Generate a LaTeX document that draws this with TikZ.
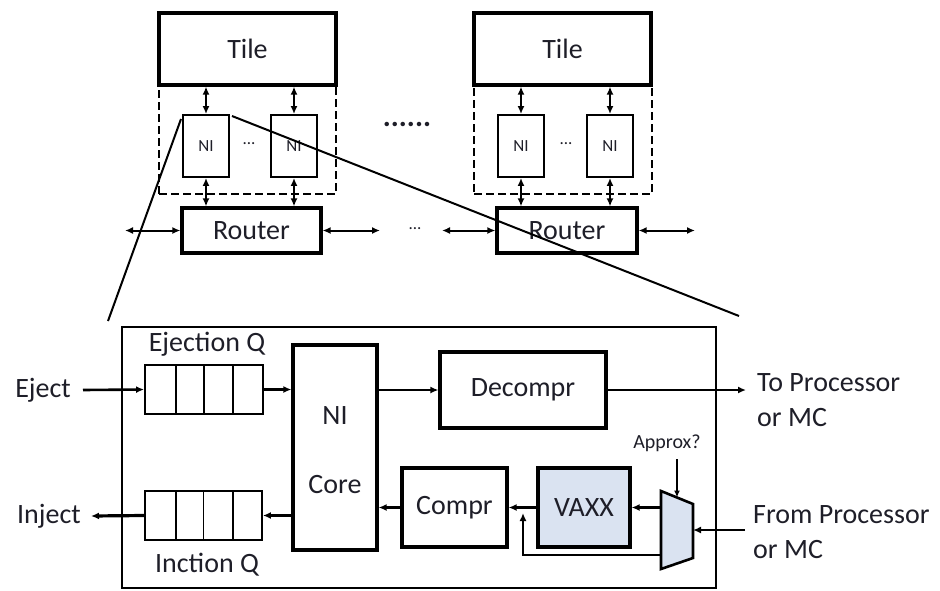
\documentclass[tikz,border=0pt]{standalone}
\usepackage{fontspec}
\setmainfont{Carlito}
\usetikzlibrary{arrows.meta,calc}
\definecolor{vfill}{HTML}{DAE3F1}
\definecolor{txt}{HTML}{1E1E28}
\tikzset{
  bx/.style={draw, line width=3.2pt, inner sep=0pt, minimum width=#1},
  thinbx/.style={draw, line width=1.9pt, inner sep=0pt},
  big/.style={font=\fontsize{28}{35}\selectfont, text=txt},
  small/.style={font=\fontsize{17}{20}\selectfont, text=txt},
  arr/.style={-{Latex[length=8pt,width=7pt]}, line width=2.6pt},
  darr/.style={{Latex[length=8pt,width=7pt]}-{Latex[length=8pt,width=7pt]}, line width=2pt},
  zoomline/.style={line width=2pt},
  dashbox/.style={draw, dashed, dash pattern=on 8pt off 4pt, line width=2.4pt, inner sep=0pt},
}
\begin{document}
\begin{tikzpicture}[x=1pt,y=-1pt]
\useasboundingbox (0,0) rectangle (940,590);

% ---------- top: tiles, NIs, routers ----------
\node[bx=177pt, minimum height=72pt, big] (tile1) at (247.5,49) {Tile};
\node[dashbox, minimum width=177pt, minimum height=109pt] (dash1) at (247.5,139.5) {};
\node[thinbx, minimum width=46pt, minimum height=62pt, small] (ni1) at (206,146) {NI};
\node[thinbx, minimum width=46pt, minimum height=62pt, small] (ni2) at (294,146) {NI};
\node[small] (dots1) at (249,144) {...};
\node[bx=139pt, minimum height=45pt, big] (router1) at (251.5,230.5) {Router};

\node[bx=177pt, minimum height=72pt, big] (tile2) at (562.5,49) {Tile};
\node[dashbox, minimum width=178pt, minimum height=109pt] (dash2) at (563,139.5) {};
\node[thinbx, minimum width=46pt, minimum height=62pt, small] (ni3) at (521,146) {NI};
\node[thinbx, minimum width=46pt, minimum height=62pt, small] (ni4) at (610,146) {NI};
\node[small] (dots2) at (566,144) {...};
\node[bx=140pt, minimum height=45pt, big] (router2) at (567,230.5) {Router};

\node[font=\fontsize{30}{30}\selectfont\bfseries, text=txt] (dots3) at (407,124) {......};
\node[small] (dots4) at (415,229) {...};

\foreach \n/\t/\r in {ni1/tile1/router1, ni2/tile1/router1, ni3/tile2/router2, ni4/tile2/router2}{
  \draw[darr] (\n.north) -- (\n.north |- \t.south);
  \draw[darr] (\n.south) -- (\n.south |- \r.north);
}
\coordinate (lfree) at (125,230.5);
\coordinate (rfree1) at (380,230.5);
\coordinate (lfree2) at (442,230.5);
\coordinate (rfree2) at (695,230.5);
\draw[darr] (lfree) -- (router1.west);
\draw[darr] (router1.east) -- (rfree1);
\draw[darr] (lfree2) -- (router2.west);
\draw[darr] (router2.east) -- (rfree2);

% ---------- bottom: NI detail ----------
\node[draw, line width=2.6pt, minimum width=594pt, minimum height=261pt, inner sep=0pt] (outer) at (419,457.5) {};

\node[thinbx, minimum width=118pt, minimum height=49pt] (ejq) at (204,389.5) {};
\node[thinbx, minimum width=117pt, minimum height=49pt] (injq) at (203.5,515.5) {};
\foreach \q in {ejq, injq}{
  \foreach \f in {0.265,0.5,0.745}{
    \draw[line width=1.9pt] ($(\q.north west)!\f!(\q.north east)$) -- ($(\q.south west)!\f!(\q.south east)$);
  }
}
\node[big] (ejlab) at (207,344) {Ejection Q};
\node[big] (inlab) at (207,565) {Inction Q};

\node[bx=84pt, minimum height=205pt] (ncore) at (335,447.5) {};
\node[big] (nitext) at (335,416) {NI};
\node[big] (coretext) at (335,485) {Core};

\node[bx=166pt, minimum height=76pt, big] (decompr) at (523,390) {Decompr};
\node[bx=105pt, minimum height=79pt, big] (compr) at (454.5,507.5) {Compr};
\node[bx=92pt, minimum height=79pt, big, fill=vfill] (vaxx) at (584,507.5) {VAXX};

\coordinate (m1) at (661,491);
\coordinate (m2) at (693,504);
\coordinate (m3) at (693,558);
\coordinate (m4) at (661,569);
\draw[line width=2.6pt, fill=vfill, line join=miter] (m1) -- (m2) -- (m3) -- (m4) -- cycle;

\node[big, anchor=east, inner sep=0pt] (eject) at (71,390) {Eject};
\node[big, anchor=east, inner sep=0pt] (inject) at (81,516) {Inject};
\node[big, anchor=west, align=left, inner sep=0pt] (toproc) at (757,400) {To Processor\\or MC};
\node[big, anchor=west, align=left, inner sep=0pt] (fromproc) at (753,532) {From Processor\\or MC};
\node[font=\fontsize{20}{22}\selectfont, text=txt] (approx) at (667,443) {Approx?};

\coordinate (ejstart) at (83,390);
\coordinate (injend) at (91,516);
\coordinate (toend) at (746,390);
\coordinate (fromstart) at (745,530);
\coordinate (muxout) at (661,507.5);
\coordinate (muxbyp) at (661,555);
\coordinate (byptip) at (523,513);
\coordinate (apstart) at (677,459);
\coordinate (apend) at (677,497.5);
\coordinate (muxin) at (693,530);

\draw[arr] (ejstart) -- (ejq.west);
\draw[arr] (ejq.east) -- (ejq.east -| ncore.west);
\draw[arr] (ncore.east |- decompr.west) -- (decompr.west);
\draw[arr] (decompr.east) -- (toend);
\draw[arr] (compr.west) -- (compr.west -| ncore.east);
\draw[arr] (ncore.west |- injq.east) -- (injq.east);
\draw[-{Latex[length=8pt,width=7pt]}, line width=3.2pt] (injq.west) -- (injend);
\draw[arr] (vaxx.west) -- (compr.east);
\draw[arr] (muxout) -- (vaxx.east);
\draw[arr] (muxbyp) -| (byptip);
\draw[-{Latex[length=7pt,width=6pt]}, line width=1.6pt] (apstart) -- (apend);
\draw[arr] (fromstart) -- (muxin);

% ---------- zoom lines ----------
\coordinate (za) at (181,119);
\coordinate (zb) at (108,321);
\coordinate (zc) at (232,116);
\coordinate (zd) at (739,316);
\draw[zoomline] (za) -- (zb);
\draw[zoomline] (zc) -- (zd);
\end{tikzpicture}
\end{document}
